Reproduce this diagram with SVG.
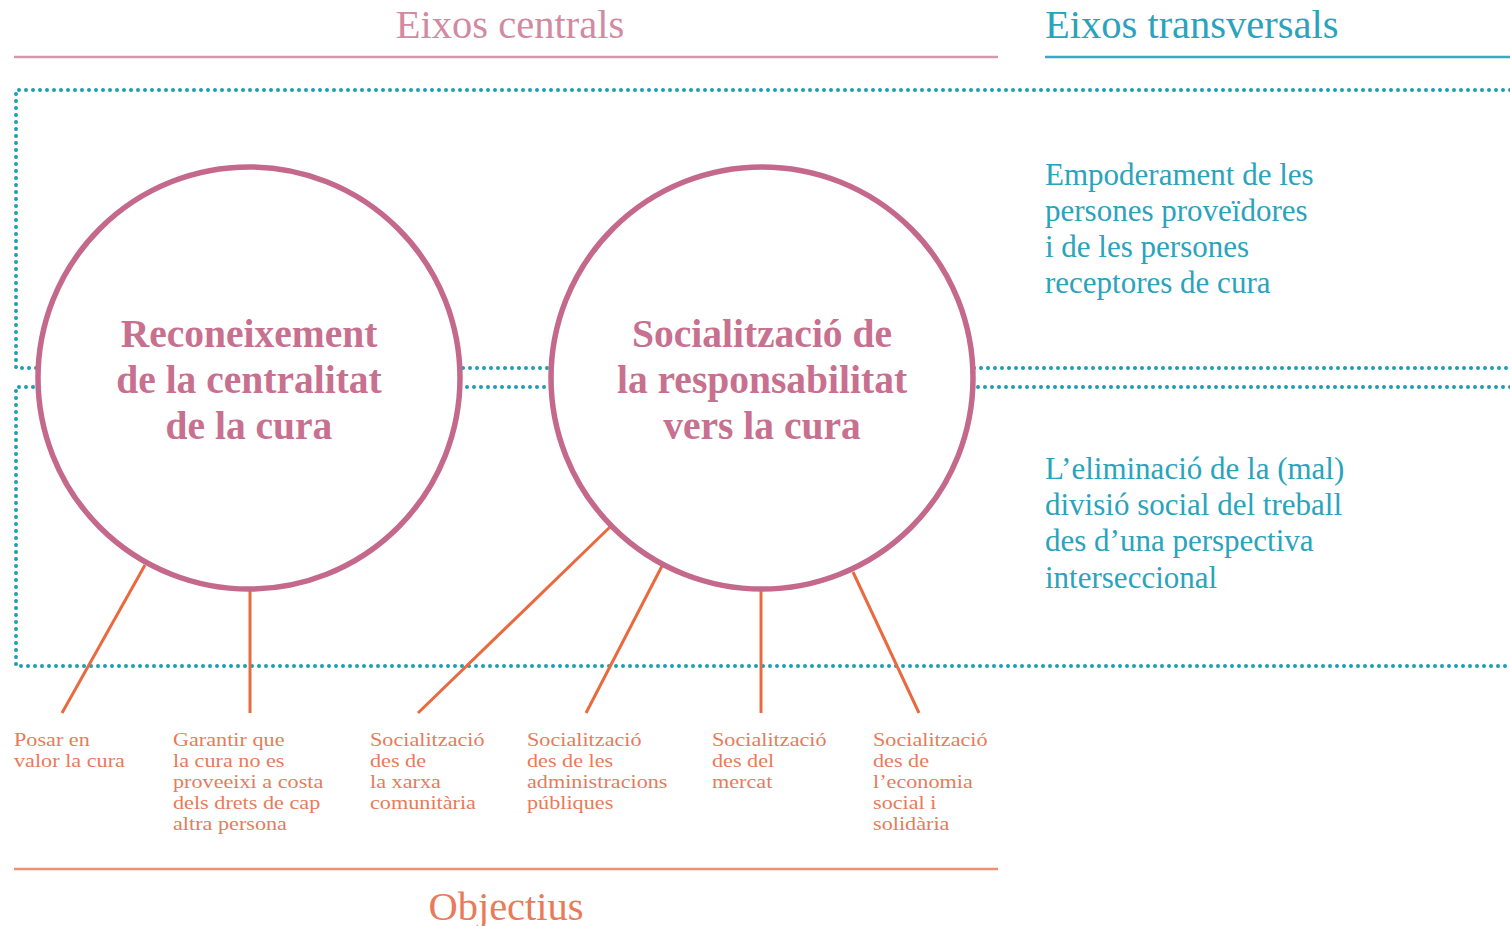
<svg xmlns="http://www.w3.org/2000/svg" width="1510" height="926" viewBox="0 0 1510 926">
<style>
.dot{fill:none;stroke:#1c9db3;stroke-width:4;stroke-linecap:round;stroke-dasharray:0 7}
.circ{fill:#fff;stroke:#c4698b;stroke-width:5.5}
.ctext{font-family:"Liberation Serif",serif;font-weight:bold;font-size:39.5px;fill:#c8708f;text-anchor:middle}
.link{stroke:#ea6a3f;stroke-width:3;fill:none}
.obj{font-family:"Liberation Serif",serif;font-size:18.5px;fill:#e87b5a}
.tv{font-family:"Liberation Serif",serif;font-size:31px;fill:#2aa3bd}
.head{font-family:"Liberation Serif",serif;font-size:40.5px}
</style>
<rect width="1510" height="926" fill="#fff"/>
<g id="headers">
<text class="head" x="510" y="38" text-anchor="middle" fill="#d28aa2">Eixos centrals</text>
<line x1="14" y1="57" x2="998" y2="57" stroke="#d39aad" stroke-width="2.5"/>
<text class="head" x="1045" y="38" fill="#2aa3bd">Eixos transversals</text>
<line x1="1045" y1="57" x2="1510" y2="57" stroke="#3aaac3" stroke-width="2.5"/>
<line x1="14" y1="869" x2="998" y2="869" stroke="#ec8f72" stroke-width="2.5"/>
<text class="head" x="506" y="920" text-anchor="middle" fill="#e87b5a">Objectius</text>
</g>
<g id="frames">
<path class="dot" d="M1510 90 H16 V368 H1510"/>
<path class="dot" d="M1510 387 H16 V666 H1510"/>
</g>
<g id="connectors">
<line class="link" x1="145" y1="565" x2="62" y2="713"/>
<line class="link" x1="250" y1="590" x2="250" y2="713"/>
<line class="link" x1="610" y1="527" x2="418" y2="713"/>
<line class="link" x1="662" y1="566" x2="586" y2="713"/>
<line class="link" x1="761" y1="590" x2="761" y2="713"/>
<line class="link" x1="853" y1="572" x2="919" y2="713"/>
</g>
<g id="node-reconeixement">
<circle class="circ" cx="249" cy="378" r="211"/>
<text class="ctext" x="249" y="347">Reconeixement</text>
<text class="ctext" x="249" y="393">de la centralitat</text>
<text class="ctext" x="249" y="439">de la cura</text>
</g>
<g id="node-socialitzacio">
<circle class="circ" cx="762" cy="378" r="211"/>
<text class="ctext" x="762" y="347">Socialització de</text>
<text class="ctext" x="762" y="393">la responsabilitat</text>
<text class="ctext" x="762" y="439">vers la cura</text>
</g>
<g id="node-empoderament">
<text class="tv" x="1045" y="185">Empoderament de les</text>
<text class="tv" x="1045" y="221">persones proveïdores</text>
<text class="tv" x="1045" y="257">i de les persones</text>
<text class="tv" x="1045" y="293">receptores de cura</text>
</g>
<g id="node-eliminacio">
<text class="tv" x="1045" y="479">L’eliminació de la (mal)</text>
<text class="tv" x="1045" y="515">divisió social del treball</text>
<text class="tv" x="1045" y="551">des d’una perspectiva</text>
<text class="tv" x="1045" y="588">interseccional</text>
</g>
<g id="obj-posar" transform="translate(14,0) scale(1.2,1)">
<text class="obj" x="0" y="746">Posar en</text>
<text class="obj" x="0" y="767">valor la cura</text>
</g>
<g id="obj-garantir" transform="translate(173,0) scale(1.2,1)">
<text class="obj" x="0" y="746">Garantir que</text>
<text class="obj" x="0" y="767">la cura no es</text>
<text class="obj" x="0" y="788">proveeixi a costa</text>
<text class="obj" x="0" y="809">dels drets de cap</text>
<text class="obj" x="0" y="830">altra persona</text>
</g>
<g id="obj-xarxa" transform="translate(370,0) scale(1.2,1)">
<text class="obj" x="0" y="746">Socialització</text>
<text class="obj" x="0" y="767">des de</text>
<text class="obj" x="0" y="788">la xarxa</text>
<text class="obj" x="0" y="809">comunitària</text>
</g>
<g id="obj-admin" transform="translate(527,0) scale(1.2,1)">
<text class="obj" x="0" y="746">Socialització</text>
<text class="obj" x="0" y="767">des de les</text>
<text class="obj" x="0" y="788">administracions</text>
<text class="obj" x="0" y="809">públiques</text>
</g>
<g id="obj-mercat" transform="translate(712,0) scale(1.2,1)">
<text class="obj" x="0" y="746">Socialització</text>
<text class="obj" x="0" y="767">des del</text>
<text class="obj" x="0" y="788">mercat</text>
</g>
<g id="obj-ess" transform="translate(873,0) scale(1.2,1)">
<text class="obj" x="0" y="746">Socialització</text>
<text class="obj" x="0" y="767">des de</text>
<text class="obj" x="0" y="788">l’economia</text>
<text class="obj" x="0" y="809">social i</text>
<text class="obj" x="0" y="830">solidària</text>
</g>
</svg>
